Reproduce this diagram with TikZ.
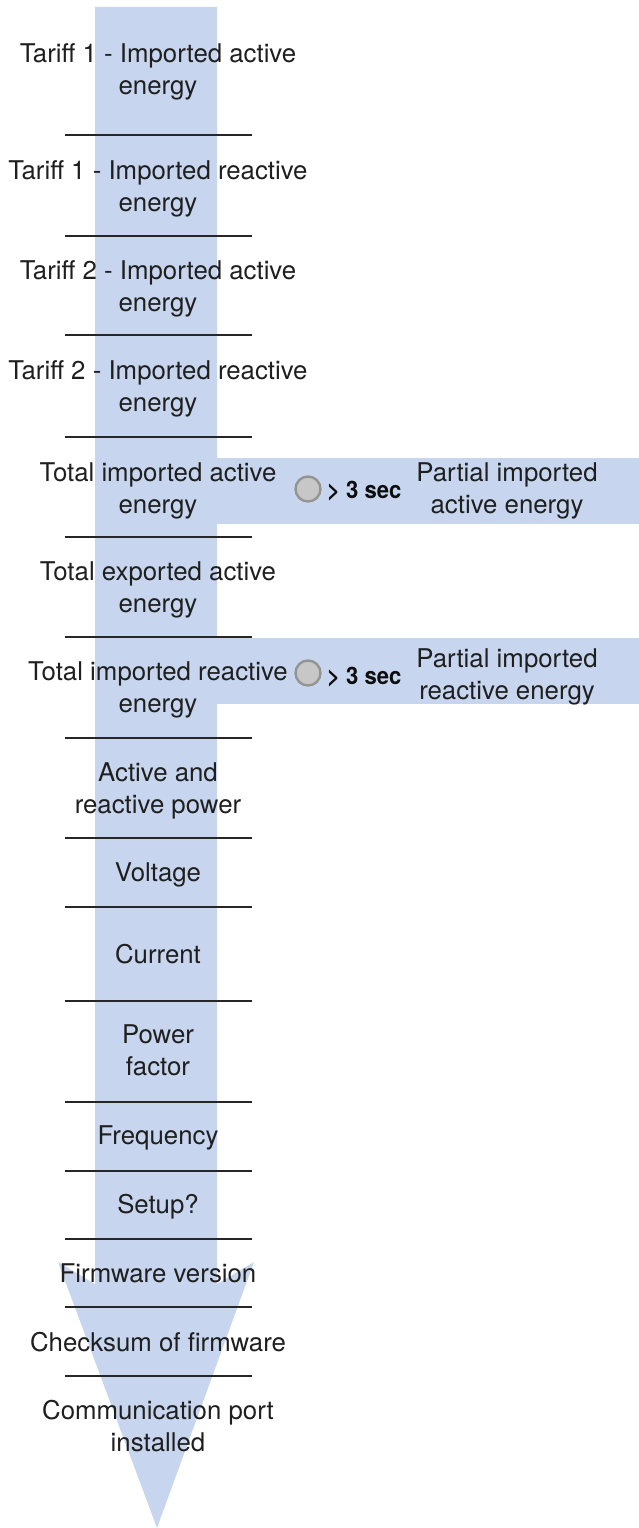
\documentclass[tikz,border=0pt]{standalone}
\usepackage{fontspec}
\setmainfont{TeX Gyre Heros}
\begin{document}
\begin{tikzpicture}[x=1pt,y=-1pt,
  txt/.style={anchor=base,align=center,inner sep=0pt,text=black!88,font=\fontsize{25.8}{31.5}\selectfont},
  sep/.style={line width=1.3pt,black!85},
  btn/.style={circle,minimum size=25pt,inner sep=0pt,fill=black!22,draw=black!42,line width=2.4pt},
  hold/.style={anchor=base west,inner sep=0pt,font=\bfseries\fontsize{24}{26}\selectfont,text=black!95}]
\definecolor{bandblue}{RGB}{199,214,238}
\useasboundingbox (0,0) rectangle (639,1528);
% main arrow
\fill[bandblue] (95,7) -- (217,7) -- (217,1284) -- (254,1262) -- (157,1528) -- (58,1262) -- (95,1284) -- cycle;
% side bands
\fill[bandblue] (217,458) rectangle (639,524);
\fill[bandblue] (217,638) rectangle (639,704);
% separators
\foreach \y in {135,236,335,437,537,637,738,838,907,1001,1102,1171,1239,1307,1376}
  \draw[sep] (65,\y) -- (252,\y);
% texts (two-line nodes: base = last line)
\node[txt] (t1a) at (158,94) {Tariff 1 - Imported active\\energy};
\node[txt] (t1r) at (158,211) {Tariff 1 - Imported reactive\\energy};
\node[txt] (t2a) at (158,311) {Tariff 2 - Imported active\\energy};
\node[txt] (t2r) at (158,411) {Tariff 2 - Imported reactive\\energy};
\node[txt] (tia) at (158,513) {Total imported active\\energy};
\node[txt] (tea) at (158,612) {Total exported active\\energy};
\node[txt] (tir) at (158,712) {Total imported reactive\\energy};
\node[txt] (pow) at (158,813) {Active and\\reactive power};
\node[txt] (vol) at (158,881) {Voltage};
\node[txt] (cur) at (158,963) {Current};
\node[txt] (pf) at (158,1075) {Power\\factor};
\node[txt] (frq) at (158,1144) {Frequency};
\node[txt] (set) at (158,1213) {Setup?};
\node[txt] (fw) at (158,1282) {Firmware version};
\node[txt] (cks) at (158,1351) {Checksum of firmware};
\node[txt] (com) at (158,1451) {Communication port\\installed};
% buttons
\node[btn] (b1) at (308,489) {};
\node[hold] (h1) at (327,498) {\scalebox{0.92}[1]{> 3 sec}};
\node[txt] (pia) at (507,513) {Partial imported\\active energy};
\node[btn] (b2) at (308,673) {};
\node[hold] (h2) at (327,684) {\scalebox{0.92}[1]{> 3 sec}};
\node[txt] (pir) at (507,699) {Partial imported\\reactive energy};
\end{tikzpicture}
\end{document}
